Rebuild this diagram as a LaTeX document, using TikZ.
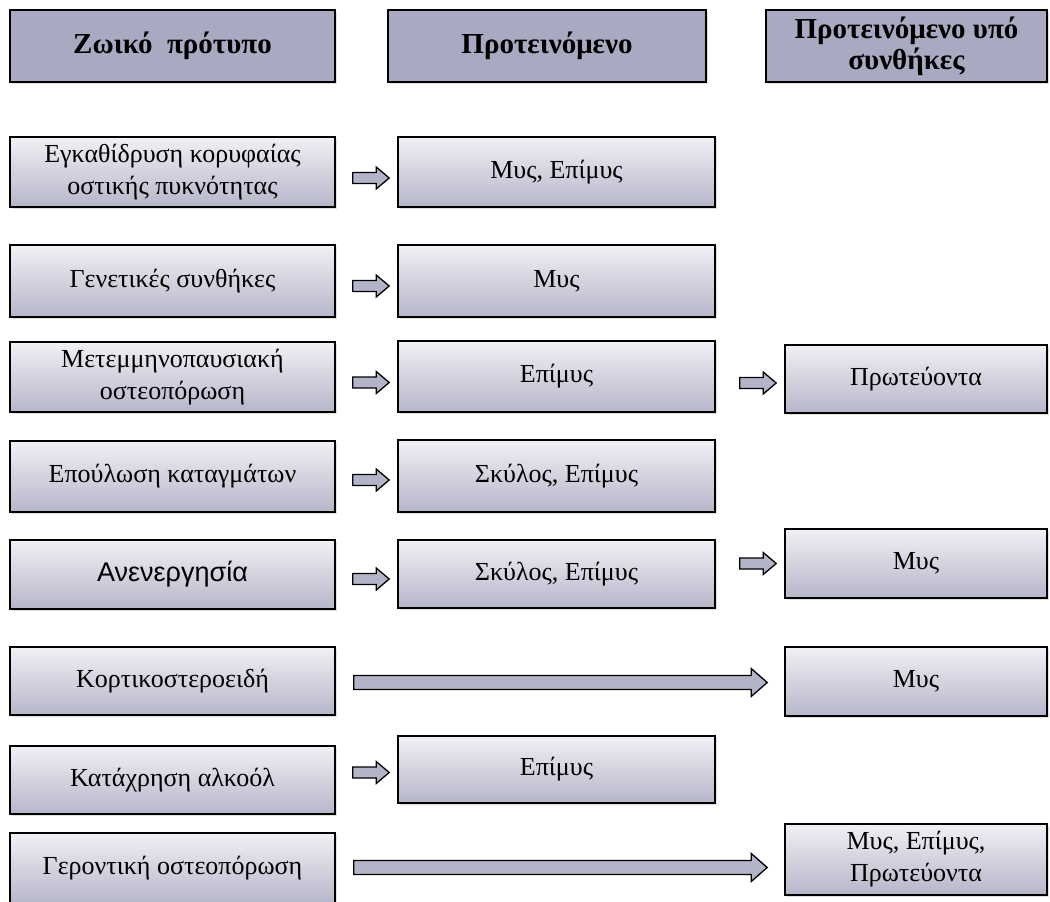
\documentclass[tikz,border=0pt]{standalone}
\usepackage{fontspec}
\setmainfont{Liberation Serif}
\newfontfamily\sansgr{Liberation Sans}
\usetikzlibrary{calc,shadows}
\definecolor{boxtop}{HTML}{F0F0F5}
\definecolor{boxbot}{HTML}{B6B6CA}
\definecolor{hdrfill}{HTML}{A9A9C1}
\definecolor{arrfill}{HTML}{B4B4C8}
\tikzset{
  base/.style={draw=black, line width=1.6pt, inner sep=0pt, align=center,
    drop shadow={shadow xshift=1.5pt, shadow yshift=-2pt, opacity=0.25, fill=gray}},
  hdr/.style={base, fill=hdrfill, font=\fontsize{29}{31}\selectfont\bfseries},
  cell/.style={base, top color=boxtop, bottom color=boxbot, font=\fontsize{26}{32}\selectfont},
  lcol/.style={cell, minimum width=325pt},
  mcol/.style={cell, minimum width=317pt},
  rcol/.style={cell, minimum width=262pt},
  barr/.style={draw=black, line width=1.3pt, fill=arrfill},
}
% #1 from, #2 to, #3 start gap, #4 end gap, #5 half shaft, #6 half head, #7 head length, #8 y offset
\newcommand{\blockarr}[8]{%
  \draw[barr] ($(#1.east|-#2.west)+(#3,#8-#5)$) -- ($(#2.west)+(-#4-#7,#8-#5)$)
    -- ($(#2.west)+(-#4-#7,#8-#6)$) -- ($(#2.west)+(-#4,#8)$)
    -- ($(#2.west)+(-#4-#7,#8+#6)$) -- ($(#2.west)+(-#4-#7,#8+#5)$)
    -- ($(#1.east|-#2.west)+(#3,#8+#5)$) -- cycle;}
\begin{document}
\begin{tikzpicture}[x=1pt,y=-1pt]
\useasboundingbox[fill=white] (0,0) rectangle (1050,902);
% headers
\node[hdr, minimum width=325pt, minimum height=72pt] (H1) at (172.5,46) {Ζωικό\ \ πρότυπο};
\node[hdr, minimum width=318pt, minimum height=72pt] (H2) at (547,46) {Προτεινόμενο};
\node[hdr, minimum width=281pt, minimum height=72pt] (H3) at (906.5,46) {Προτεινόμενο υπό\\συνθήκες};
% left column
\node[lcol, minimum height=70pt] (L1) at (172.5,172) {Εγκαθίδρυση κορυφαίας\\οστικής πυκνότητας};
\node[lcol, minimum height=72pt] (L2) at (172.5,281) {Γενετικές συνθήκες};
\node[lcol, minimum height=70pt] (L3) at (172.5,377) {Μετεμμηνοπαυσιακή\\οστεοπόρωση};
\node[lcol, minimum height=71pt] (L4) at (172.5,476.5) {Επούλωση καταγμάτων};
\node[lcol, minimum height=69pt, font=\fontsize{27}{32}\selectfont\sansgr] (L5) at (172.5,574.5) {Ανενεργησία};
\node[lcol, minimum height=68pt] (L6) at (172.5,681) {Κορτικοστεροειδή};
\node[lcol, minimum height=68pt] (L7) at (172.5,780) {Κατάχρηση αλκοόλ};
\node[lcol, minimum height=71pt] (L8) at (172.5,868.5) {Γεροντική οστεοπόρωση};
% middle column
\node[mcol, minimum height=70pt] (M1) at (556.5,172) {Μυς, Επίμυς};
\node[mcol, minimum height=72pt] (M2) at (556.5,281) {Μυς};
\node[mcol, minimum height=71pt] (M3) at (556.5,376.5) {Επίμυς};
\node[mcol, minimum height=72pt] (M4) at (556.5,476) {Σκύλος, Επίμυς};
\node[mcol, minimum height=68pt] (M5) at (556.5,574) {Σκύλος, Επίμυς};
\node[mcol, minimum height=67pt] (M7) at (556.5,769.5) {Επίμυς};
% right column
\node[rcol, minimum height=68pt] (R3) at (916,379) {Πρωτεύοντα};
\node[rcol, minimum height=69pt] (R5) at (916,563.5) {Μυς};
\node[rcol, minimum height=69pt] (R6) at (916,681.5) {Μυς};
\node[rcol, minimum height=71pt] (R8) at (916,859.5) {Μυς, Επίμυς,\\Πρωτεύοντα};
% arrows
\blockarr{L1}{M1}{17}{8}{5.5}{11}{13}{6}
\blockarr{L2}{M2}{17}{8}{5.5}{11}{13}{5}
\blockarr{L3}{M3}{17}{8}{5.5}{11}{13}{6}
\blockarr{L4}{M4}{17}{8}{5.5}{11}{13}{4}
\blockarr{L5}{M5}{17}{8}{5.5}{11}{13}{5}
\blockarr{L7}{M7}{17}{8}{5.5}{11}{13}{3}
\blockarr{M3}{R3}{24}{8}{5.5}{11}{13}{4}
\blockarr{M5}{R5}{24}{8}{5.5}{11}{13}{0}
\blockarr{L6}{R6}{18}{17}{7}{14}{16}{1}
\blockarr{L8}{R8}{18}{17}{7}{14}{16}{8}
\end{tikzpicture}
\end{document}
